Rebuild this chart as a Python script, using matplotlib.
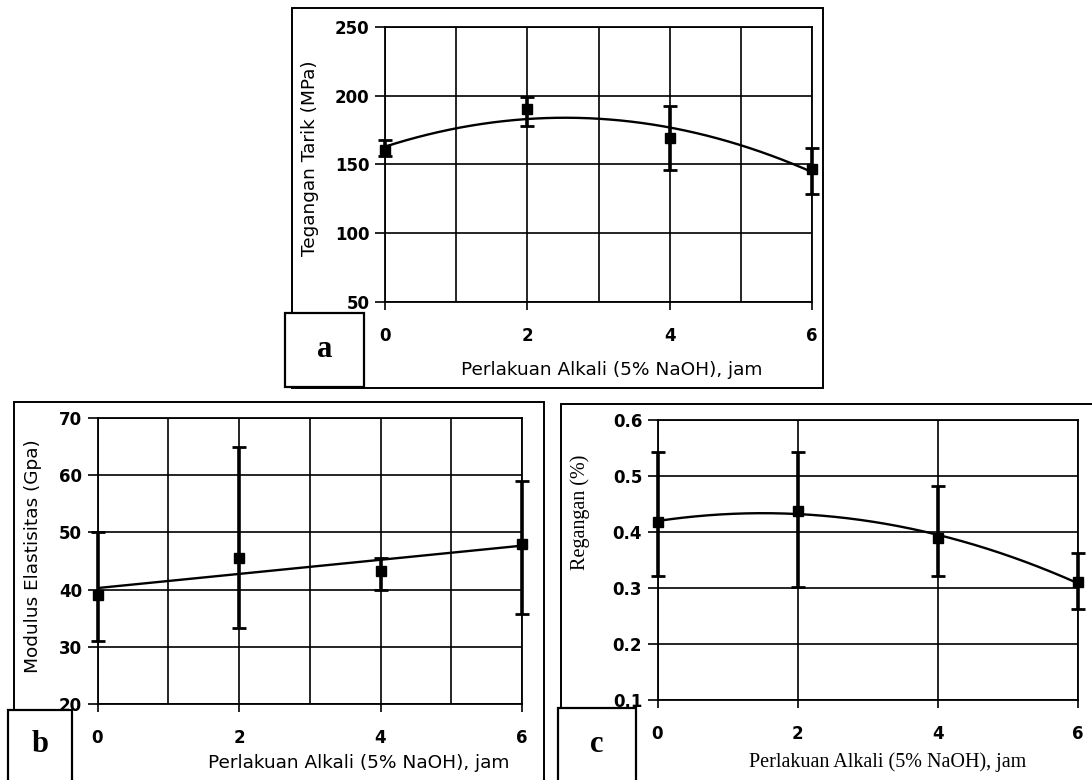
import numpy as np
import matplotlib
matplotlib.use('Agg')
import matplotlib.pyplot as plt
from matplotlib.patches import Rectangle

# data
jam = [0, 2, 4, 6]

tegangan = [160.5, 190.5, 169.5, 147]
tegangan_atas = [167.5, 199, 192.5, 162]
tegangan_bawah = [156.5, 178, 146, 128.5]

modulus = [39, 45.6, 43.3, 48]
modulus_atas = [50, 65, 45.5, 59]
modulus_bawah = [31, 33.3, 40, 35.7]

regangan = [0.418, 0.437, 0.39, 0.31]
regangan_atas = [0.543, 0.543, 0.483, 0.362]
regangan_bawah = [0.322, 0.302, 0.322, 0.263]

W, H = 1092, 780
fig = plt.figure(figsize=(W / 100, H / 100), dpi=100)
fig.patch.set_facecolor('white')

sans = 'DejaVu Sans'
serif = 'Liberation Serif'


def px_axes(x0, y_top, x1, y_bot):
    # pixel box -> figure fraction
    return fig.add_axes([x0 / W, (H - y_bot) / H, (x1 - x0) / W, (y_bot - y_top) / H])


def frame(x0, y0, x1, y1, lw=1.4, z=5):
    r = Rectangle((x0 / W, (H - y1) / H), (x1 - x0) / W, (y1 - y0) / H,
                  transform=fig.transFigure, fill=True, facecolor='white',
                  edgecolor='black', lw=lw, zorder=z)
    fig.add_artist(r)
    return r


def style(ax, ylim, yticks, vgrid, ticklbl):
    ax.set_xlim(0, 6)
    ax.set_ylim(*ylim)
    ax.set_xticks(jam)
    ax.set_xticks(vgrid, minor=True)
    ax.set_yticks(yticks)
    ax.set_yticklabels(ticklbl)
    for s in ax.spines.values():
        s.set_color('black')
        s.set_linewidth(1.3)
    ax.grid(True, which='major', color='black', lw=1.2)
    ax.grid(True, which='minor', axis='x', color='black', lw=1.2)
    ax.tick_params(axis='x', which='minor', length=0)
    ax.tick_params(axis='x', which='major', length=6, width=1.2, direction='out', pad=12)
    ax.tick_params(axis='y', length=7, width=1.2, direction='out', pad=4)
    for t in ax.get_xticklabels() + ax.get_yticklabels():
        t.set_fontfamily(sans)
        t.set_fontweight('bold')
        t.set_fontsize(12)
    ax.set_facecolor('white')


def plot_series(ax, y, atas, bawah, deg):
    y = np.array(y)
    err = [y - np.array(bawah), np.array(atas) - y]
    ax.errorbar(jam, y, yerr=err, fmt='s', color='black', ms=7, elinewidth=2.6,
                capsize=5, capthick=2, zorder=4, clip_on=False)
    coef = np.polyfit(jam, y, deg)
    xs = np.linspace(0, 6, 200)
    ax.plot(xs, np.polyval(coef, xs), color='black', lw=1.7, zorder=3)


def labels(ax, ytxt, xtxt, fam, size, ypos, xpos):
    ax.set_ylabel(ytxt, fontfamily=fam, fontsize=size)
    ax.yaxis.set_label_coords(*ypos)
    ax.yaxis.label.set_va('center')
    ax.set_xlabel(xtxt, fontfamily=fam, fontsize=size)
    ax.xaxis.set_label_coords(*xpos)
    ax.xaxis.label.set_va('center')


# outer frames (drawn behind axes)
frame(292, 8, 823, 388, z=-1)
frame(14, 402, 544, 790, z=-1)
frame(561, 404, 1100, 790, z=-1)

xlabel_txt = 'Perlakuan Alkali (5% NaOH), jam'

# ---- panel a
ax_a = px_axes(385, 27, 812, 302)
style(ax_a, (50, 250), [50, 100, 150, 200, 250], [1, 3, 5], ['50', '100', '150', '200', '250'])
plot_series(ax_a, tegangan, tegangan_atas, tegangan_bawah, 2)
labels(ax_a, 'Tegangan Tarik (MPa)', xlabel_txt, sans, 13.3, (-0.176, 0.524), (0.532, -0.247))

# ---- panel b
ax_b = px_axes(97.5, 418, 522, 704)
style(ax_b, (20, 70), [20, 30, 40, 50, 60, 70], [1, 3, 5], ['20', '30', '40', '50', '60', '70'])
plot_series(ax_b, modulus, modulus_atas, modulus_bawah, 1)
labels(ax_b, 'Modulus Elastisitas (Gpa)', xlabel_txt, sans, 13.3, (-0.152, 0.517), (0.616, -0.206))

# ---- panel c
ax_c = px_axes(657.5, 420, 1078, 700)
style(ax_c, (0.1, 0.6), [0.1, 0.2, 0.3, 0.4, 0.5, 0.6], [],
      ['0.1', '0.2', '0.3', '0.4', '0.5', '0.6'])
plot_series(ax_c, regangan, regangan_atas, regangan_bawah, 2)
labels(ax_c, 'Regangan (%)', xlabel_txt, serif, 14.5, (-0.184, 0.67), (0.548, -0.221))

# ---- label boxes
for (x0, y0, x1, y1, lbl) in [(285, 313, 364, 387, 'a'),
                              (8, 710, 72, 790, 'b'),
                              (558, 708, 636, 790, 'c')]:
    frame(x0, y0, x1, y1, lw=1.6, z=5)
    cy = (y0 + min(y1, 780)) / 2
    fig.text((x0 + x1) / 2 / W, (H - cy) / H, lbl, ha='center', va='center',
             fontfamily=serif, fontweight='bold', fontsize=22, zorder=6)

fig.savefig('out.png', dpi=100, facecolor='white')
